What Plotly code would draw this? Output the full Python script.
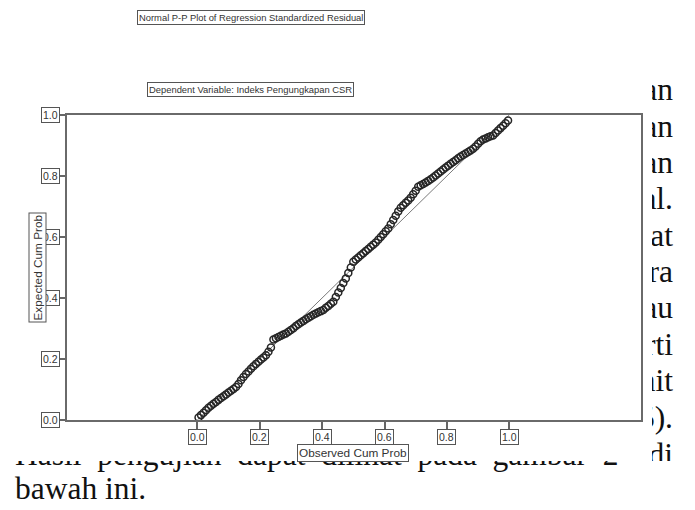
import plotly.graph_objects as go

W, H = 695, 510

# ---------------- data ----------------
observed_cum_prob = [
    0.004, 0.012, 0.020, 0.028, 0.036, 0.044, 0.052, 0.060, 0.068, 0.076,
    0.084, 0.092, 0.100, 0.108, 0.116, 0.124, 0.132, 0.140, 0.148, 0.156,
    0.164, 0.172, 0.180, 0.188, 0.196, 0.204, 0.212, 0.220, 0.228, 0.236,
    0.244, 0.252, 0.260, 0.268, 0.276, 0.284, 0.292, 0.300, 0.308, 0.316,
    0.324, 0.332, 0.340, 0.348, 0.356, 0.364, 0.372, 0.380, 0.388, 0.396,
    0.404, 0.412, 0.420, 0.428, 0.436, 0.444, 0.452, 0.460, 0.468, 0.476,
    0.484, 0.492, 0.500, 0.508, 0.516, 0.524, 0.532, 0.540, 0.548, 0.556,
    0.564, 0.572, 0.580, 0.588, 0.596, 0.604, 0.612, 0.620, 0.628, 0.636,
    0.644, 0.652, 0.660, 0.668, 0.676, 0.684, 0.692, 0.700, 0.708, 0.716,
    0.724, 0.732, 0.740, 0.748, 0.756, 0.764, 0.772, 0.780, 0.788, 0.796,
    0.804, 0.812, 0.820, 0.828, 0.836, 0.844, 0.852, 0.860, 0.868, 0.876,
    0.884, 0.892, 0.900, 0.908, 0.916, 0.924, 0.932, 0.940, 0.948, 0.956,
    0.964, 0.972, 0.980, 0.988, 0.996,
]
expected_cum_prob = [
    0.008, 0.016, 0.024, 0.032, 0.040, 0.047, 0.053, 0.059, 0.066, 0.072,
    0.078, 0.084, 0.090, 0.096, 0.102, 0.108, 0.118, 0.130, 0.141, 0.151,
    0.159, 0.168, 0.176, 0.184, 0.191, 0.198, 0.205, 0.212, 0.224, 0.238,
    0.264, 0.268, 0.272, 0.276, 0.280, 0.284, 0.289, 0.295, 0.301, 0.308,
    0.314, 0.320, 0.325, 0.330, 0.335, 0.340, 0.345, 0.349, 0.353, 0.357,
    0.361, 0.368, 0.374, 0.381, 0.388, 0.403, 0.418, 0.433, 0.449, 0.464,
    0.482, 0.500, 0.519, 0.526, 0.533, 0.540, 0.547, 0.554, 0.561, 0.568,
    0.575, 0.582, 0.591, 0.600, 0.609, 0.619, 0.628, 0.642, 0.656, 0.670,
    0.684, 0.696, 0.704, 0.712, 0.720, 0.729, 0.740, 0.752, 0.765, 0.770,
    0.774, 0.779, 0.784, 0.789, 0.795, 0.802, 0.808, 0.815, 0.821, 0.828,
    0.834, 0.840, 0.846, 0.852, 0.858, 0.864, 0.869, 0.874, 0.879, 0.884,
    0.889, 0.897, 0.906, 0.914, 0.920, 0.923, 0.927, 0.930, 0.933, 0.941,
    0.949, 0.957, 0.965, 0.973, 0.982,
]
reference_line_x = [0.0, 1.0]
reference_line_y = [0.0, 1.0]

x_tick_vals = [0.0, 0.2, 0.4, 0.6, 0.8, 1.0]
x_tick_text = ["0.0", "0.2", "0.4", "0.6", "0.8", "1.0"]
y_tick_vals = [0.0, 0.2, 0.4, 0.6, 0.8, 1.0]
y_tick_text = ["0.0", "0.2", "0.4", "0.6", "0.8", "1.0"]

chart_title = "Normal P-P Plot of Regression Standardized Residual"
chart_subtitle = "Dependent Variable: Indeks Pengungkapan CSR"
x_title = "Observed Cum Prob"
y_title = "Expected Cum Prob"

# surrounding document text (line endings visible to the right of the picture)
side_words = ["an", "an", "an", "al.", "dapat", "para", "atau", "arti",
              "unit", "5).", "di"]
side_lines_y = [92, 129, 165, 201, 238, 274, 310, 347, 383, 420, 457]
hidden_line = "Hasil\u00a0 pengujian\u00a0 dapat\u00a0 dilihat\u00a0 pada\u00a0 gambar\u00a0 2"
last_line = "bawah ini."

# ---------------- layout helpers ----------------
PL, PR, PT, PB = 67, 641, 115, 420      # plot frame in pixels
CLIP_X = 652                            # right edge of the picture
px = lambda v: v / W
py = lambda v: 1 - v / H

SANS = "Liberation Sans, Arial, sans-serif"
SERIF = "Liberation Serif, Times New Roman, serif"
TXT = "#333333"
BOX = "#555555"

fig = go.Figure()

fig.add_trace(go.Scatter(
    x=reference_line_x, y=reference_line_y, mode="lines",
    line=dict(color="#7a7a7a", width=1), hoverinfo="skip", showlegend=False,
    xaxis="x", yaxis="y"))

fig.add_trace(go.Scatter(
    x=observed_cum_prob, y=expected_cum_prob, mode="markers",
    marker=dict(symbol="circle-open", size=7, color="#262626",
                line=dict(width=1.5, color="#262626")),
    showlegend=False, xaxis="x", yaxis="y"))

# right-hand text fragments (clipped at the picture's right edge)
fig.add_trace(go.Scatter(
    x=[673] * len(side_words), y=side_lines_y, mode="text",
    text=side_words, textposition="middle left",
    textfont=dict(family=SERIF, size=31.5, color="#111111"),
    cliponaxis=True, showlegend=False, hoverinfo="skip",
    xaxis="x2", yaxis="y2"))

# bottom lines (first one is partly hidden by the picture)
fig.add_trace(go.Scatter(
    x=[15, 15], y=[457, 491], mode="text",
    text=[hidden_line, last_line], textposition="middle right",
    textfont=dict(family=SERIF, size=31.5, color="#111111"),
    cliponaxis=True, showlegend=False, hoverinfo="skip",
    xaxis="x3", yaxis="y3"))

annotations = []


def box(text, x, y, xref="paper", yref="paper", size=10, angle=0):
    annotations.append(dict(
        text=text, x=x, y=y, xref=xref, yref=yref, showarrow=False,
        xanchor="center", yanchor="middle", textangle=angle,
        font=dict(family=SANS, size=size, color=TXT),
        bordercolor=BOX, borderwidth=1, borderpad=1, bgcolor="white"))


box(chart_title, px(250.5), py(18), size=9.4)
box(chart_subtitle, px(250.5), py(89.5), size=9.4)
for v, t in zip(x_tick_vals, x_tick_text):
    box(t, v, py(436.5), xref="x", size=10.5)
for v, t in zip(y_tick_vals, y_tick_text):
    box(t, px(50), v, yref="y", size=10.5)
box(x_title, 0.5, py(452.5), xref="x", size=11.8)
box(y_title, px(37), 0.5, yref="y", size=11.8, angle=-90)

x0 = -(197.3 - PL) / 312.0
x1 = 1 + (PR - 509.3) / 312.0

fig.update_layout(
    width=W, height=H, margin=dict(l=0, r=0, t=0, b=0),
    paper_bgcolor="white", plot_bgcolor="white",
    showlegend=False, annotations=annotations,
    xaxis=dict(domain=[px(PL), px(PR)], range=[x0, x1], tickvals=x_tick_vals,
               showticklabels=False, ticks="outside", ticklen=8, tickwidth=1.5,
               tickcolor="#666666", showline=True, mirror=True, linewidth=2,
               linecolor="#6a6a6a", showgrid=False, zeroline=False,
               fixedrange=True),
    yaxis=dict(domain=[1 - PB / H, 1 - PT / H], range=[0, 1],
               tickvals=y_tick_vals, showticklabels=False, ticks="outside",
               ticklen=8, tickwidth=1.5, tickcolor="#666666", showline=True,
               mirror=True, linewidth=2, linecolor="#6a6a6a", showgrid=False,
               zeroline=False, fixedrange=True),
    xaxis2=dict(domain=[px(CLIP_X), 1], range=[CLIP_X, 695], visible=False,
                fixedrange=True, anchor="y2"),
    yaxis2=dict(domain=[0, 1], range=[510, 0], visible=False, fixedrange=True,
                anchor="x2"),
    xaxis3=dict(domain=[0, 1], range=[0, 695], visible=False, fixedrange=True,
                anchor="y3"),
    yaxis3=dict(domain=[0, 1 - 461 / H], range=[510, 461], visible=False,
                fixedrange=True, anchor="x3"),
)

fig.write_html(
    "out.html", config={"displayModeBar": False},
    post_script="document.body.style.margin='0px';"
                "document.body.style.overflow='hidden';")
